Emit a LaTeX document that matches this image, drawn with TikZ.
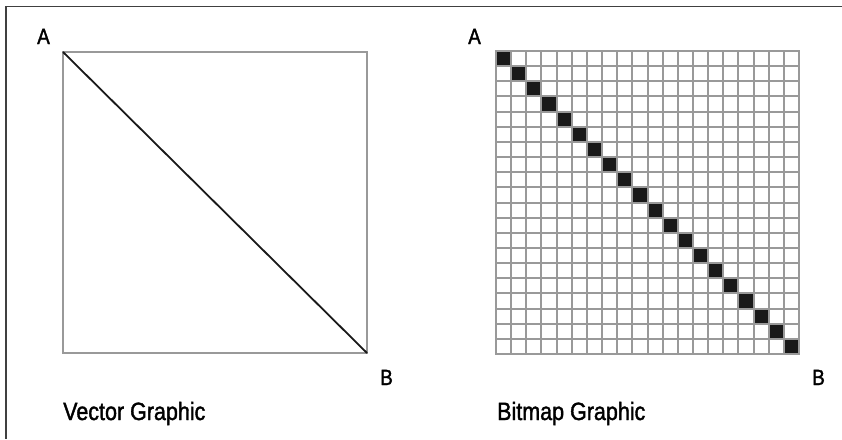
\documentclass[tikz,border=0pt]{standalone}
\usepackage{fontspec}
\setmainfont[FakeStretch=0.86, FakeBold=1.5]{Liberation Sans}
\usetikzlibrary{positioning}

\begin{document}
\begin{tikzpicture}[x=1pt, y=-1pt,
    frame/.style={draw=black!75, line width=1.3pt},
    outline/.style={draw=black!40, line width=2pt},
    pixel/.style={fill=black!90},
    corner/.style={inner sep=0pt, anchor=base west, font=\fontsize{22}{24}\selectfont},
    caption/.style={inner sep=0pt, anchor=base west, font=\fontsize{25}{28}\selectfont}]
  \useasboundingbox (0,0) rectangle (842,439);
  % frame, top and left only
  \coordinate (fr) at (842,6.5);
  \coordinate (ftl) at (6,6.5);
  \coordinate (fb) at (6,439);
  \draw[frame] (fr) -- (ftl) -- (fb);

  % vector graphic
  \coordinate (vA) at (63,52);
  \coordinate (vB) at (367,353);
  \draw[outline] (vA) rectangle (vB);
  \draw[line width=1.8pt, black!90] (vA) -- (vB);
  \node[corner] (vecA) at (37,44) {A};
  \node[corner] (vecB) at (380,385) {B};
  \node[caption] (vec) at (63,420) {Vector Graphic};

  % bitmap graphic
  \foreach \i in {0,...,19}
    \fill[pixel] (496+\i*15.15, 51+\i*15.15) rectangle ++(15.15,15.15);
  \foreach \i in {0,...,20} {
    \draw[outline] (496+\i*15.15,51) -- (496+\i*15.15,354);
    \draw[outline] (496,51+\i*15.15) -- (799,51+\i*15.15);
  }
  \draw[outline] (496,51) rectangle (799,354);
  \node[corner] (bmpA) at (468,44) {A};
  \node[corner] (bmpB) at (812,385) {B};
  \node[caption] (bmp) at (497,420) {Bitmap Graphic};
\end{tikzpicture}
\end{document}
